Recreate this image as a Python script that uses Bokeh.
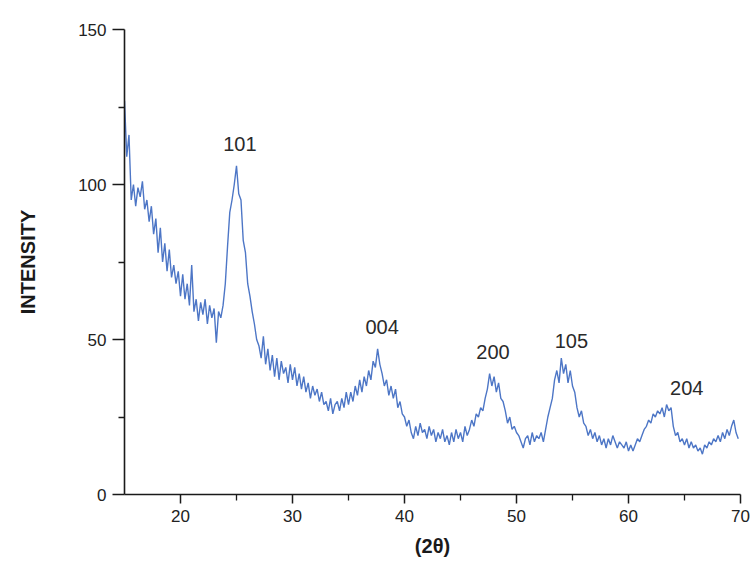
import numpy as np
from bokeh.plotting import figure
from bokeh.models import Range1d, FixedTicker, ColumnDataSource
from bokeh.core.properties import value
from bokeh.embed import file_html
from bokeh.resources import INLINE

# 2-theta sampling grid (degrees), 0.2 deg step from 15.0 to 69.8
two_theta = np.round(np.arange(15.0, 69.81, 0.2), 1)

# intensity, five samples per degree
intensity = [
    127, 109, 116, 95, 100,   # 15
    93, 99, 96, 101, 92,      # 16
    95, 88, 93, 84, 89,       # 17
    78, 86, 75, 81, 72,       # 18
    79, 70, 74, 68, 72,       # 19
    64, 71, 63, 68, 61,       # 20
    74, 59, 63, 56, 62,       # 21
    58, 63, 55, 61, 57,       # 22
    60, 49, 59, 57, 61,       # 23
    68, 80, 91, 95, 100,      # 24
    106, 97, 95, 82, 78,      # 25
    68, 64, 59, 55, 50,       # 26
    48, 44, 51, 42, 47,       # 27
    40, 45, 38, 44, 37,       # 28
    43, 39, 41, 36, 42,       # 29
    37, 41, 35, 39, 34,       # 30
    38, 33, 36, 31, 35,       # 31
    32, 34, 30, 33, 29,       # 32
    30, 27, 31, 26, 29,       # 33
    30, 27, 31, 28, 33,       # 34
    29, 33, 30, 35, 32,       # 35
    37, 33, 38, 35, 40,       # 36
    37, 43, 41, 47, 42,       # 37
    39, 35, 37, 32, 35,       # 38
    31, 34, 28, 30, 26,       # 39
    25, 22, 24, 20, 18,       # 40
    22, 19, 23, 20, 21,       # 41
    18, 22, 19, 21, 17,       # 42
    20, 18, 21, 17, 19,       # 43
    16, 20, 17, 21, 18,       # 44
    20, 17, 22, 19, 21,       # 45
    24, 22, 26, 25, 28,       # 46
    27, 31, 34, 39, 35,       # 47
    38, 33, 36, 31, 30,       # 48
    27, 23, 25, 21, 22,       # 49
    20, 19, 17, 15, 18,       # 50
    19, 16, 20, 17, 19,       # 51
    18, 20, 17, 21, 25,       # 52
    28, 31, 37, 40, 36,       # 53
    44, 39, 42, 36, 40,       # 54
    35, 33, 28, 25, 27,       # 55
    23, 22, 19, 21, 18,       # 56
    20, 17, 19, 16, 18,       # 57
    15, 18, 16, 19, 17,       # 58
    15, 17, 16, 15, 17,       # 59
    14, 16, 14, 16, 18,       # 60
    17, 19, 21, 22, 24,       # 61
    23, 26, 25, 27, 26,       # 62
    28, 25, 29, 27, 28,       # 63
    22, 19, 20, 17, 18,       # 64
    16, 18, 15, 17, 15,       # 65
    16, 14, 15, 13, 16,       # 66
    15, 17, 16, 18, 17,       # 67
    19, 17, 20, 18, 21,       # 68
    19, 22, 24, 20, 18,       # 69
]

# peak annotations
peak_labels = ["101", "004", "200", "105", "204"]
peak_x = [25.3, 38.0, 47.9, 54.9, 65.2]
peak_y = [113.0, 54.0, 46.0, 49.5, 34.5]

x_major = [20, 30, 40, 50, 60, 70]
x_minor = [25, 35, 45, 55, 65]
y_major = [0, 50, 100, 150]
y_minor = [25, 75, 125]

p = figure(width=750, height=578, output_backend="svg", toolbar_location=None,
           x_range=Range1d(15, 70), y_range=Range1d(0, 150),
           min_border_left=124, min_border_right=10, min_border_top=29,
           min_border_bottom=84)
p.outline_line_color = None
p.xgrid.visible = False
p.ygrid.visible = False
p.background_fill_color = "white"
p.border_fill_color = "white"

src = ColumnDataSource(dict(x=two_theta, y=intensity))
p.line("x", "y", source=src, line_color="#4d76c6", line_width=1.4)

lab = ColumnDataSource(dict(x=peak_x, y=peak_y, t=peak_labels))
p.text("x", "y", text="t", source=lab, text_align="center", text_baseline="middle",
       text_font=value("Liberation Sans"), text_font_size="20px", text_color="#2a2a2a")

p.xaxis.ticker = FixedTicker(ticks=x_major, minor_ticks=x_minor)
p.yaxis.ticker = FixedTicker(ticks=y_major, minor_ticks=y_minor)

for ax in (p.xaxis, p.yaxis):
    ax.axis_line_color = "#1a1a1a"
    ax.axis_line_width = 1.6
    ax.major_tick_line_color = "#1a1a1a"
    ax.major_tick_line_width = 1.5
    ax.minor_tick_line_color = "#1a1a1a"
    ax.minor_tick_line_width = 1.3
    ax.major_tick_in = 0
    ax.minor_tick_in = 0
    ax.major_label_text_font = "Liberation Sans"
    ax.major_label_text_font_size = "17px"
    ax.major_label_text_color = "#222222"
    ax.axis_label_text_font = "Liberation Sans"
    ax.axis_label_text_font_style = "bold"
    ax.axis_label_text_color = "#1a1a1a"

p.xaxis.major_tick_out = 9
p.xaxis.minor_tick_out = 6
p.yaxis.major_tick_out = 12
p.yaxis.minor_tick_out = 6
p.xaxis.major_label_standoff = 6
p.yaxis.major_label_standoff = 6

p.xaxis.axis_label = "(2θ)"
p.xaxis.axis_label_text_font_size = "20px"
p.xaxis.axis_label_standoff = 10
p.yaxis.axis_label = "INTENSITY"
p.yaxis.axis_label_text_font_size = "20px"
p.yaxis.axis_label_standoff = 36

open("out.html", "w").write(file_html(p, INLINE))
